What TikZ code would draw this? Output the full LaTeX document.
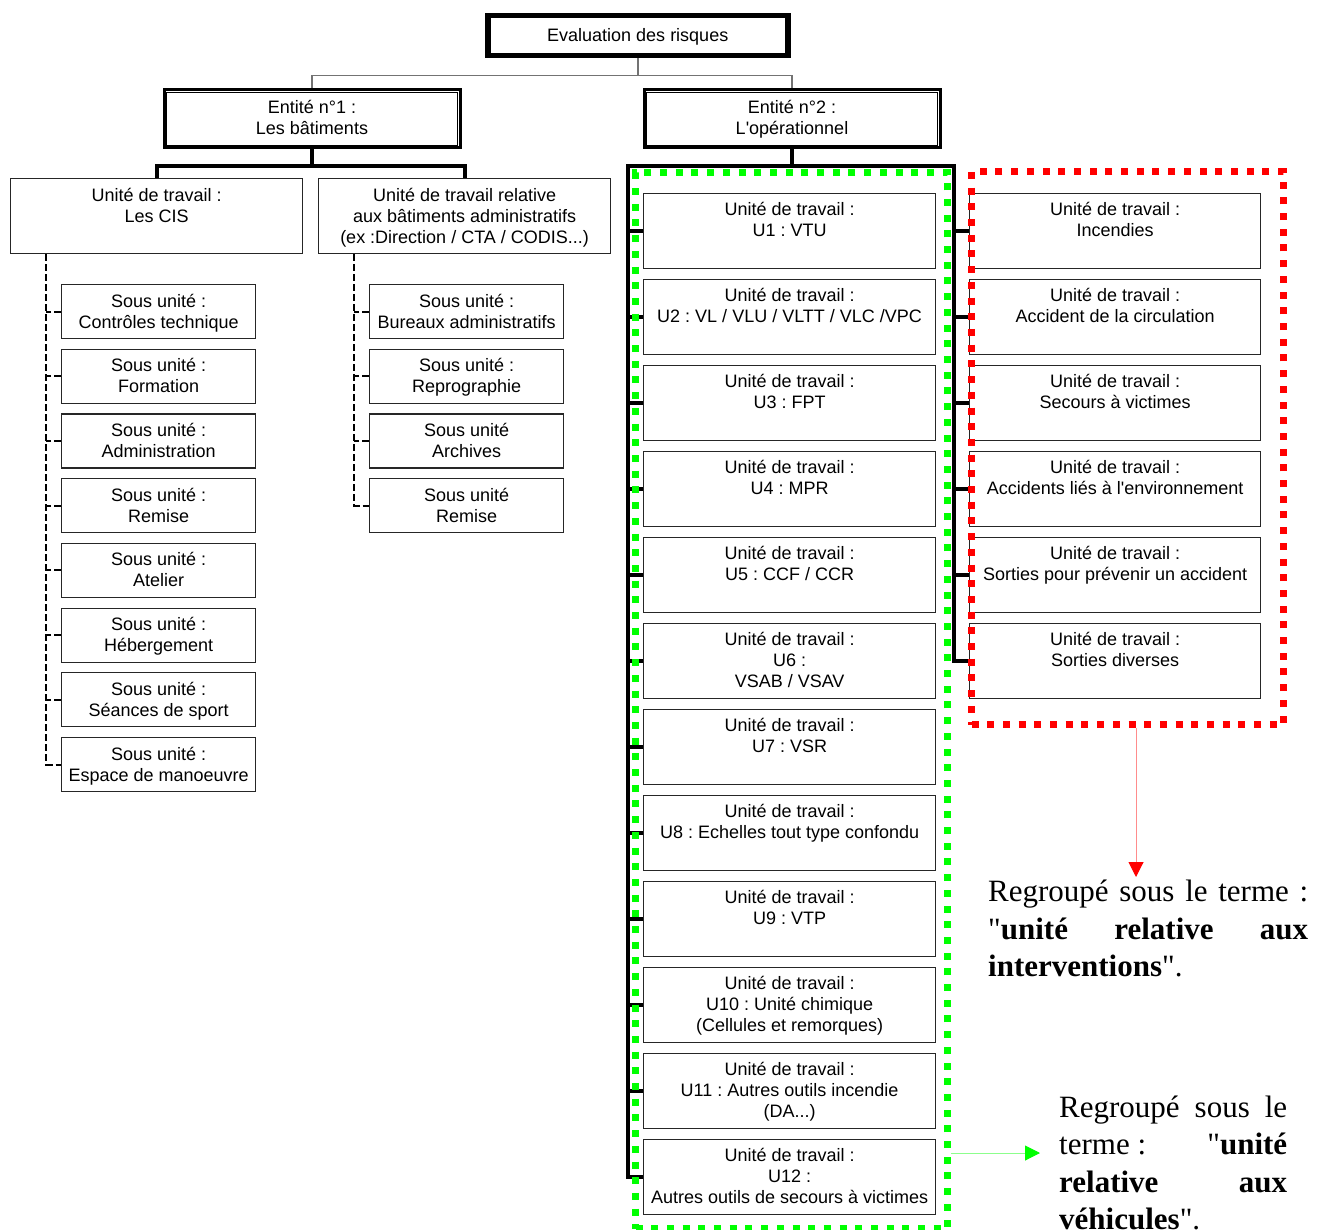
\documentclass[tikz,border=0pt]{standalone}
\usepackage{fontspec}
\newfontfamily\ar[Ligatures=TeXOff]{Liberation Sans}
\newfontfamily\tm[Ligatures=TeXOff]{Liberation Serif}
\usetikzlibrary{arrows.meta}
\definecolor{grnC}{HTML}{00FF00}
\definecolor{redC}{HTML}{FF0000}
\newcommand\bt[4]{\parbox[c][#2][t]{#1}{\centering\rule{0pt}{#3}#4\par}}
\newcommand\jl[2]{\makebox[#1][s]{#2}}
\frenchspacing
\begin{document}
\frenchspacing
\begin{tikzpicture}[x=1pt,y=-1pt,
 sansf/.style={font={\ar\fontsize{18}{21}\selectfont}},
 ubox/.style={draw=black!85,line width=1.2pt,inner sep=0pt,anchor=north west,sansf},
 topbox/.style={ubox,draw=black,line width=4.5pt},
 entbox/.style={ubox,draw=black,line width=3pt},
 innerline/.style={draw=black,line width=1pt},
 thk/.style={draw=black,line width=4pt,line join=miter},
 dsh/.style={draw=black,line width=2pt,dash pattern=on 7pt off 3pt},
 gry/.style={draw=black!55,line width=1.5pt},
 gdot/.style={draw=grnC,line width=7pt,dash pattern=on 7pt off 8.7pt,inner sep=0pt,anchor=north west},
 rdot/.style={gdot,draw=redC},
 rtext/.style={font={\tm\fontsize{31}{37.5}\selectfont},anchor=base west,inner sep=0pt}
]
\useasboundingbox (0,0) rectangle (1327,1230);

% top and entities
\node[topbox] (e0) at (485,13) {\bt{301pt}{41pt}{26pt}{Evaluation des risques}};
\draw[innerline] ([shift={(5,5)}]e0.north west) rectangle ([shift={(-5,-5)}]e0.south east);
\node[entbox] (e1) at (162.5,88.5) {\bt{296pt}{58pt}{23.5pt}{Entité n°1 :\\Les bâtiments}};
\draw[innerline] ([shift={(4,4)}]e1.north west) rectangle ([shift={(-4,-4)}]e1.south east);
\node[entbox] (e2) at (642.5,88.5) {\bt{296pt}{58pt}{23.5pt}{Entité n°2 :\\L'opérationnel}};
\draw[innerline] ([shift={(4,4)}]e2.north west) rectangle ([shift={(-4,-4)}]e2.south east);

% units of entity 1
\node[ubox] (cis) at (10,178) {\bt{292pt}{75pt}{23pt}{Unité de travail :\\Les CIS}};
\node[ubox] (rel) at (318,178) {\bt{292pt}{75pt}{23pt}{Unité de travail relative\\aux bâtiments administratifs\\(ex :Direction / CTA / CODIS...)}};

\node[ubox] (s1) at (61,284)   {\bt{194pt}{54pt}{22.5pt}{Sous unité :\\Contrôles technique}};
\node[ubox] (s2) at (61,348.7) {\bt{194pt}{54pt}{22.5pt}{Sous unité :\\Formation}};
\node[ubox] (s3) at (61,413.4) {\bt{194pt}{54pt}{22.5pt}{Sous unité :\\Administration}};
\node[ubox] (s4) at (61,478.1) {\bt{194pt}{54pt}{22.5pt}{Sous unité :\\Remise}};
\node[ubox] (s5) at (61,542.8) {\bt{194pt}{54pt}{22.5pt}{Sous unité :\\Atelier}};
\node[ubox] (s6) at (61,607.5) {\bt{194pt}{54pt}{22.5pt}{Sous unité :\\Hébergement}};
\node[ubox] (s7) at (61,672.2) {\bt{194pt}{54pt}{22.5pt}{Sous unité :\\Séances de sport}};
\node[ubox] (s8) at (61,736.9) {\bt{194pt}{54pt}{22.5pt}{Sous unité :\\Espace de manoeuvre}};

\node[ubox] (m1) at (369,284)   {\bt{194pt}{54pt}{22.5pt}{Sous unité :\\Bureaux administratifs}};
\node[ubox] (m2) at (369,348.7) {\bt{194pt}{54pt}{22.5pt}{Sous unité :\\Reprographie}};
\node[ubox] (m3) at (369,413.4) {\bt{194pt}{54pt}{22.5pt}{Sous unité\\Archives}};
\node[ubox] (m4) at (369,478.1) {\bt{194pt}{54pt}{22.5pt}{Sous unité\\Remise}};

% units of entity 2
\node[ubox] (u1)  at (643,193)  {\bt{292pt}{75pt}{22pt}{Unité de travail :\\U1 : VTU}};
\node[ubox] (u2)  at (643,279)  {\bt{292pt}{75pt}{22pt}{Unité de travail :\\U2 : VL / VLU / VLTT / VLC /VPC}};
\node[ubox] (u3)  at (643,365)  {\bt{292pt}{75pt}{22pt}{Unité de travail :\\U3 : FPT}};
\node[ubox] (u4)  at (643,451)  {\bt{292pt}{75pt}{22pt}{Unité de travail :\\U4 : MPR}};
\node[ubox] (u5)  at (643,537)  {\bt{292pt}{75pt}{22pt}{Unité de travail :\\U5 : CCF / CCR}};
\node[ubox] (u6)  at (643,623)  {\bt{292pt}{75pt}{22pt}{Unité de travail :\\U6 :\\VSAB / VSAV}};
\node[ubox] (u7)  at (643,709)  {\bt{292pt}{75pt}{22pt}{Unité de travail :\\U7 : VSR}};
\node[ubox] (u8)  at (643,795)  {\bt{292pt}{75pt}{22pt}{Unité de travail :\\U8 : Echelles tout type confondu}};
\node[ubox] (u9)  at (643,881)  {\bt{292pt}{75pt}{22pt}{Unité de travail :\\U9 : VTP}};
\node[ubox] (u10) at (643,967)  {\bt{292pt}{75pt}{22pt}{Unité de travail :\\U10 : Unité chimique\\(Cellules et remorques)}};
\node[ubox] (u11) at (643,1053) {\bt{292pt}{75pt}{22pt}{Unité de travail :\\U11 : Autres outils incendie\\(DA...)}};
\node[ubox] (u12) at (643,1139) {\bt{292pt}{75pt}{22pt}{Unité de travail :\\U12 :\\Autres outils de secours à victimes}};

\node[ubox] (r1) at (969,193) {\bt{291pt}{75pt}{22pt}{Unité de travail :\\Incendies}};
\node[ubox] (r2) at (969,279) {\bt{291pt}{75pt}{22pt}{Unité de travail :\\Accident de la circulation}};
\node[ubox] (r3) at (969,365) {\bt{291pt}{75pt}{22pt}{Unité de travail :\\Secours à victimes}};
\node[ubox] (r4) at (969,451) {\bt{291pt}{75pt}{22pt}{Unité de travail :\\Accidents liés à l'environnement}};
\node[ubox] (r5) at (969,537) {\bt{291pt}{75pt}{22pt}{Unité de travail :\\Sorties pour prévenir un accident}};
\node[ubox] (r6) at (969,623) {\bt{291pt}{75pt}{22pt}{Unité de travail :\\Sorties diverses}};

% connectors
\draw[gry] (e0.south) -- ++(0,17) coordinate (j0) -| (e1.north);
\draw[gry] (j0) -| (e2.north);

\draw[thk] (e1.south) -- ++(0,16.5) coordinate (j1) -| (cis.north);
\draw[thk] (j1) -| (rel.north);

\draw[dsh] ([xshift=36pt]cis.south west) |- (s8.west);
\foreach \n in {s1,s2,s3,s4,s5,s6,s7} \draw[dsh] (\n.west) -- ++(-15,0);
\draw[dsh] ([xshift=36pt]rel.south west) |- (m4.west);
\foreach \n in {m1,m2,m3} \draw[dsh] (\n.west) -- ++(-15,0);

\draw[thk] (e2.south) -- ++(0,16.5) coordinate (j2);
\draw[thk] (u12.west) -- ++(-15,0) |- (j2) -| ([xshift=-15pt]r6.west) -- (r6.west);
\foreach \n in {u1,u2,u3,u4,u5,u6,u7,u8,u9,u10,u11} \draw[thk] (\n.west) -- ++(-15,0);
\foreach \n in {r1,r2,r3,r4,r5} \draw[thk] (\n.west) -- ++(-15,0);

% groups
\node[gdot,minimum width=312pt,minimum height=1056pt] (grn) at (632,169) {};
\node[rdot,minimum width=312pt,minimum height=553pt] (red) at (968,168) {};

\coordinate (ra) at (1136,877);
\draw[draw=redC!45,line width=1pt,-{Triangle[width=15pt,length=15pt,color=redC]}] (red.south -| ra) -- (ra);
\coordinate (ga) at (1040,1153);
\draw[draw=grnC!45,line width=1pt,-{Triangle[width=15pt,length=15pt,color=grnC]}] (grn.east |- ga) -- (ga);

% notes
\node[rtext] (a1) at (988,901) {\jl{320pt}{Regroupé sous le terme :}};
\node[rtext] (a2) at (988,939) {\jl{320pt}{"\textbf{unité} \textbf{relative} \textbf{aux}}};
\node[rtext] (a3) at (988,976) {\textbf{interventions}".};
\node[rtext] (b1) at (1059,1117) {\jl{228pt}{Regroupé sous le}};
\node[rtext] (b2) at (1059,1154) {\jl{228pt}{terme\kern.25em: "\textbf{unité}}};
\node[rtext] (b3) at (1059,1192) {\jl{228pt}{\textbf{relative} \textbf{aux}}};
\node[rtext] (b4) at (1059,1229) {\textbf{véhicules}".};
\end{tikzpicture}
\end{document}
